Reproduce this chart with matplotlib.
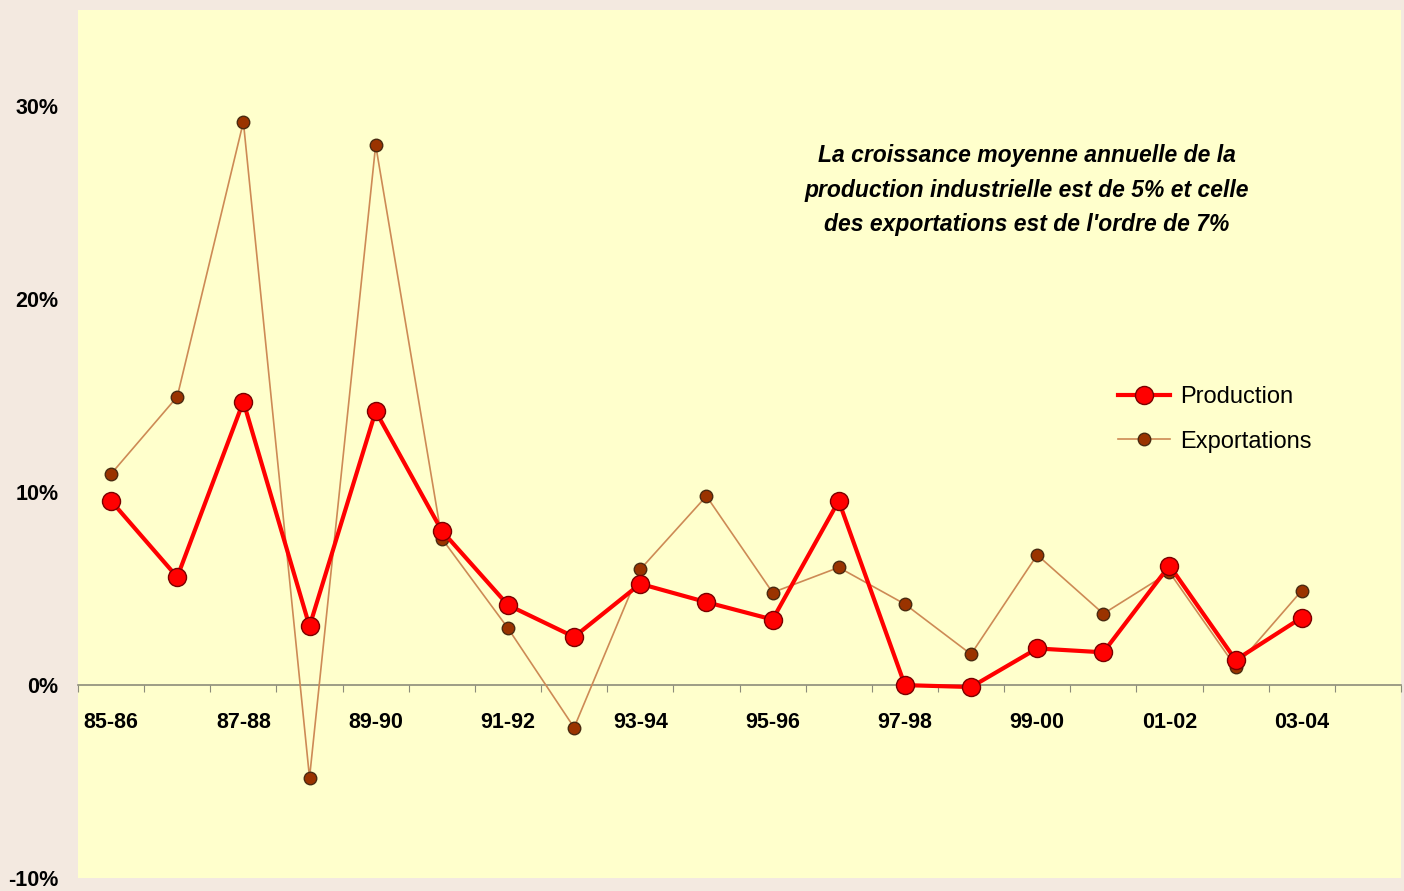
import numpy as np
import matplotlib.pyplot as plt
from matplotlib.ticker import FuncFormatter

# croissance annuelle production industrielle vs exportations

periodes = ['85-86', '86-87', '87-88', '88-89', '89-90', '90-91', '91-92', '92-93',
            '93-94', '94-95', '95-96', '96-97', '97-98', '98-99', '99-00', '00-01',
            '01-02', '02-03', '03-04']
production = [9.55, 5.6, 14.7, 3.05, 14.2, 8.0, 4.15, 2.5, 5.25, 4.3, 3.4, 9.55,
              0.0, -0.1, 1.9, 1.7, 6.2, 1.3, 3.5]
exportations = [10.95, 14.95, 29.2, -4.8, 28.0, 7.6, 2.95, -2.2, 6.0, 9.8, 4.8, 6.1,
                4.2, 1.6, 6.75, 3.7, 5.85, 0.95, 4.9]
n_slots = 20

plt.rcParams['font.family'] = ['Liberation Sans', 'DejaVu Sans']

fig = plt.figure(figsize=(14.04, 8.91), dpi=100, facecolor='#f3e9e0')
ax = fig.add_axes([78/1404, 13/891, (1401-78)/1404, (878-10)/891])
ax.set_facecolor('#ffffcc')

x = np.arange(len(periodes))
ax.plot(x, exportations, color='#cd8a55', lw=1.2, marker='o', ms=9,
        mfc='#9a3300', mec='#4a2a10', mew=1, label='Exportations', zorder=3)
ax.plot(x, production, color='#ff0000', lw=3, marker='o', ms=13,
        mfc='#ff0000', mec='#7a0000', mew=1, label='Production', zorder=4)

ax.set_xlim(-0.5, n_slots - 0.5)
ax.set_ylim(-10, 35)
ax.set_yticks([-10, 0, 10, 20, 30])
ax.yaxis.set_major_formatter(FuncFormatter(lambda v, p: f'{v:.0f}%'))
ax.tick_params(axis='y', length=0, pad=14, labelsize=15.5)
for t in ax.get_yticklabels():
    t.set_fontweight('bold')

for s in ['top', 'right', 'left']:
    ax.spines[s].set_visible(False)
ax.spines['bottom'].set_position(('data', 0))
ax.spines['bottom'].set_color('#8c8c7a')
ax.spines['bottom'].set_linewidth(1.2)

ax.set_xticks(np.arange(n_slots + 1) - 0.5)
ax.set_xticklabels([])
ax.tick_params(axis='x', which='major', length=5, color='#8c8c7a', direction='out')
ax.set_xticks(x[::2], minor=True)
ax.set_xticklabels(periodes[::2], minor=True, fontsize=15.5, fontweight='bold')
ax.tick_params(axis='x', which='minor', length=0, pad=19)

ax.text(0.717, 0.7926,
        "La croissance moyenne annuelle de la\nproduction industrielle est de 5% et celle\ndes exportations est de l'ordre de 7%",
        transform=ax.transAxes, ha='center', va='center', fontsize=16.5,
        fontweight='bold', fontstyle='italic', linespacing=1.65)

h, l = ax.get_legend_handles_labels()
leg = ax.legend(h[::-1], l[::-1], loc='upper left', bbox_to_anchor=(0.770, 0.591),
                frameon=False, fontsize=17, handlelength=2.2, labelspacing=0.95,
                handletextpad=0.42)

fig.savefig('out.png', dpi=100, facecolor=fig.get_facecolor())
